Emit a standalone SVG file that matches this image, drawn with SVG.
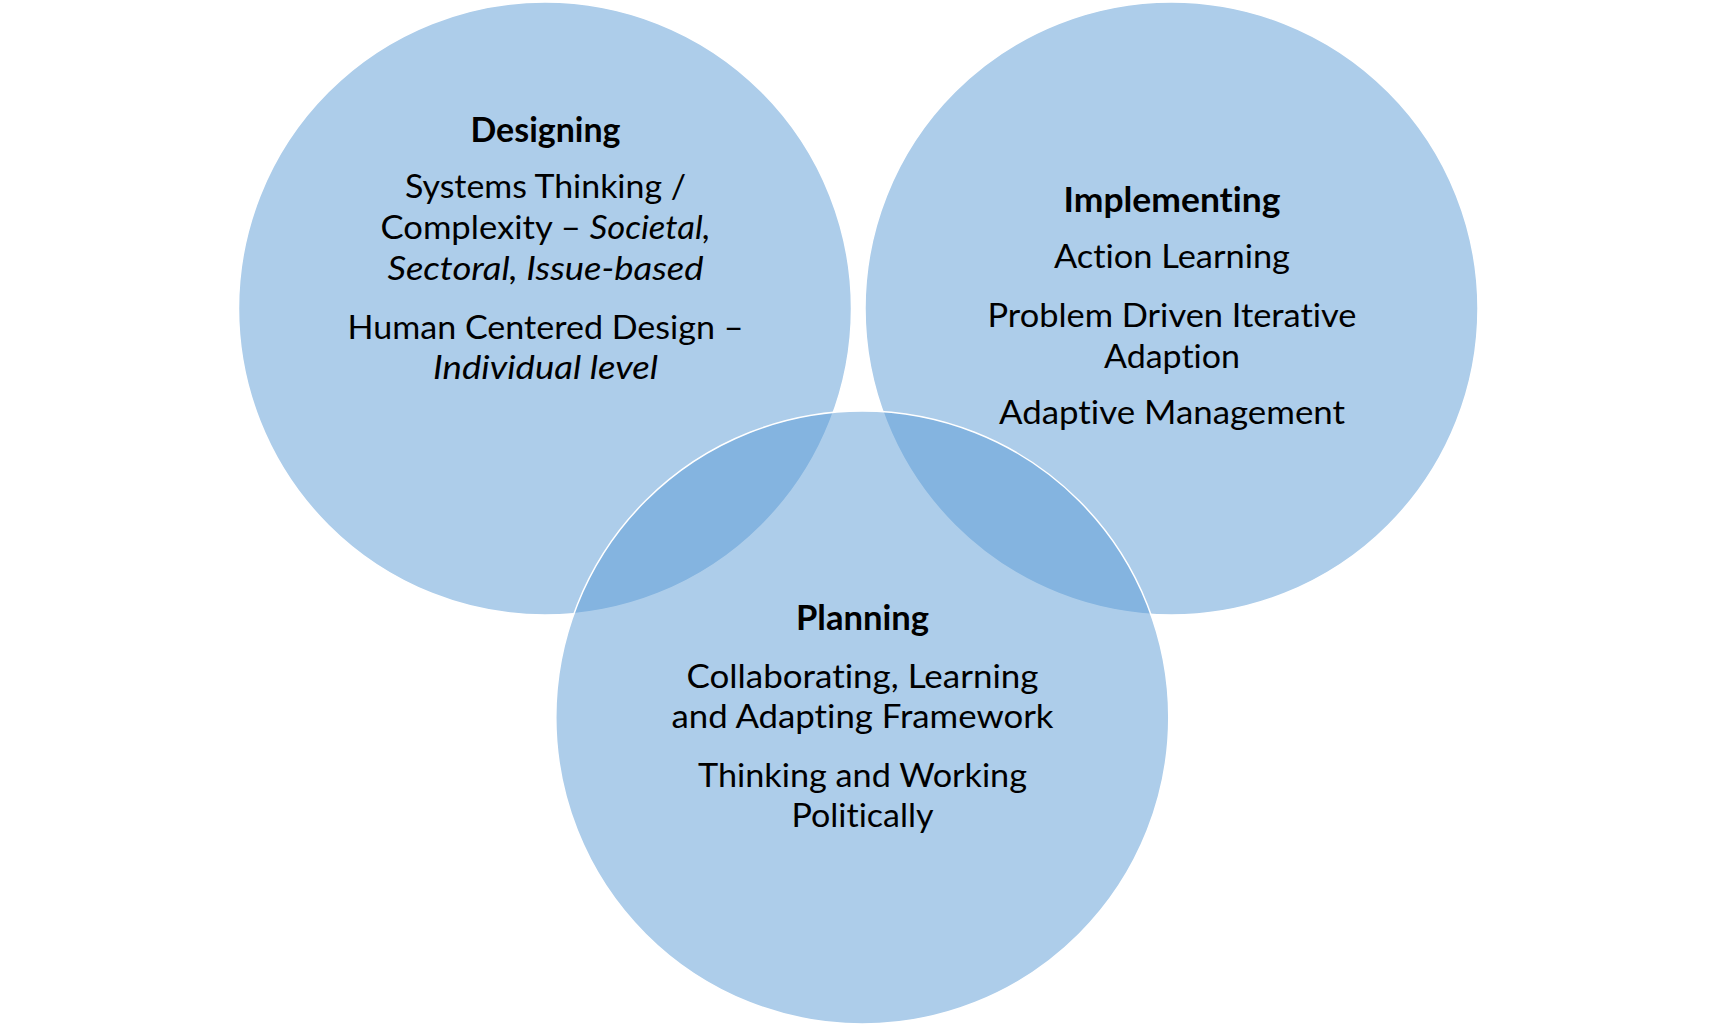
<svg xmlns="http://www.w3.org/2000/svg" width="1725" height="1027" viewBox="0 0 1725 1027">
<style>
.c{fill:#5B9BD5;fill-opacity:0.5;stroke:#FFFFFF;stroke-width:1.5}
text{font-family:Lato,"Open Sans","Liberation Sans",sans-serif;font-size:33.5px;fill:#000000;text-anchor:middle;font-variant-ligatures:none;font-feature-settings:"liga" 0,"clig" 0}
.t{font-weight:700}
.i{font-style:italic}
</style>
<rect x="0" y="0" width="1725" height="1027" fill="#FFFFFF"/>
<g id="designing">
<circle class="c" cx="545" cy="308.5" r="306.5"/>
<text class="t" x="545.5" y="141.7" textLength="150" lengthAdjust="spacingAndGlyphs">Designing</text>
<text x="545.5" y="198.3" textLength="281" lengthAdjust="spacingAndGlyphs">Systems Thinking /</text>
<text x="545.5" y="239.3" textLength="330" lengthAdjust="spacingAndGlyphs">Complexity – <tspan class="i">Societal,</tspan></text>
<text class="i" x="545.5" y="280" textLength="316" lengthAdjust="spacingAndGlyphs">Sectoral, Issue-based</text>
<text x="545.5" y="339.3" textLength="396" lengthAdjust="spacingAndGlyphs">Human Centered Design –</text>
<text class="i" x="545.5" y="379.3" textLength="225" lengthAdjust="spacingAndGlyphs">Individual level</text>
</g>
<g id="implementing">
<circle class="c" cx="1171.5" cy="308.5" r="306.5"/>
<text class="t" x="1172" y="212.3" textLength="217" lengthAdjust="spacingAndGlyphs">Implementing</text>
<text x="1172" y="268.3" textLength="236" lengthAdjust="spacingAndGlyphs">Action Learning</text>
<text x="1172" y="326.7" textLength="369" lengthAdjust="spacingAndGlyphs">Problem Driven Iterative</text>
<text x="1172" y="367.5" textLength="136" lengthAdjust="spacingAndGlyphs">Adaption</text>
<text x="1172" y="424" textLength="346" lengthAdjust="spacingAndGlyphs">Adaptive Management</text>
</g>
<g id="planning">
<circle class="c" cx="862.3" cy="717.5" r="306.5"/>
<text class="t" x="862.5" y="630" textLength="133" lengthAdjust="spacingAndGlyphs">Planning</text>
<text x="862.5" y="687.5" textLength="352" lengthAdjust="spacingAndGlyphs">Collaborating, Learning</text>
<text x="862.5" y="728.3" textLength="382" lengthAdjust="spacingAndGlyphs">and Adapting Framework</text>
<text x="862.5" y="786.7" textLength="329" lengthAdjust="spacingAndGlyphs">Thinking and Working</text>
<text x="862.5" y="826.7" textLength="142" lengthAdjust="spacingAndGlyphs">Politically</text>
</g>
<g id="connectors"/>
</svg>
